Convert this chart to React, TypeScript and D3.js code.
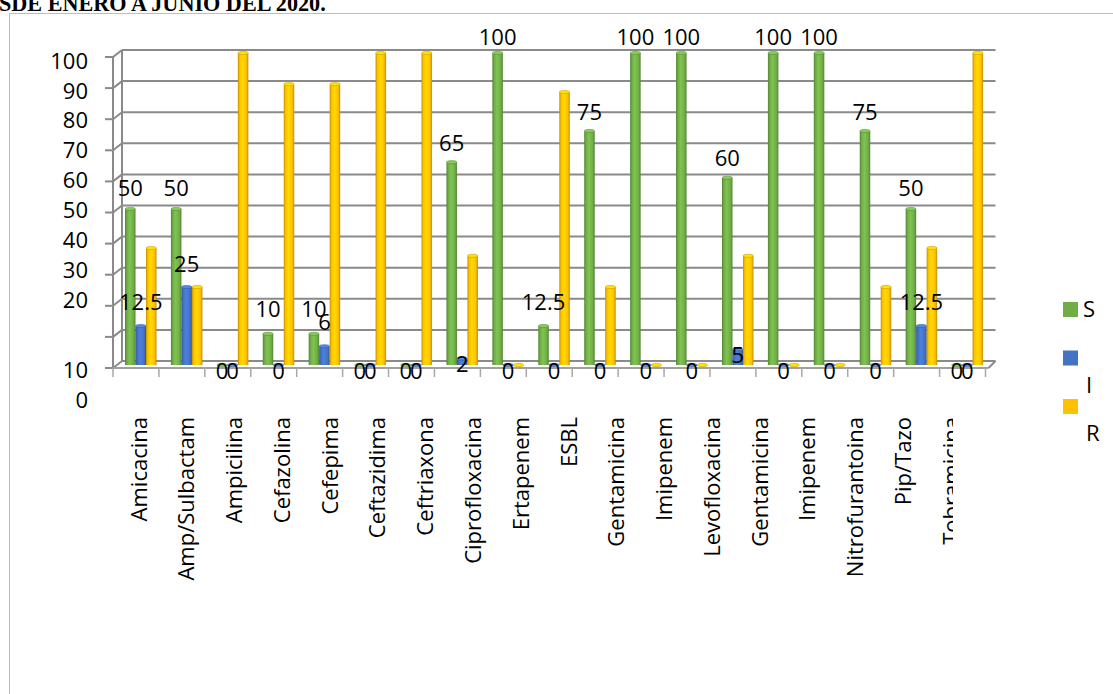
import React from "react";
import * as d3 from "d3";

// Antibiotic names printed under the axis
const CATEGORY_LABELS = [
  "Amicacina", "Amp/Sulbactam", "Ampicilina", "Cefazolina", "Cefepima",
  "Ceftazidima", "Ceftriaxona", "Ciprofloxacina", "Ertapenem", "ESBL",
  "Gentamicina", "Imipenem", "Levofloxacina", "Gentamicina", "Imipenem",
  "Nitrofurantoina", "Pip/Tazo", "Tobramicina",
];

// Percentages per column group (S = sensible, I = intermedio, R = resistente)
const S_VALUES = [50, 50, 0, 10, 10, 0, 0, 65, 100, 12.5, 75, 100, 100, 60, 100, 100, 75, 50, 0];
const I_VALUES = [12.5, 25, 0, 0, 6, 0, 0, 2, 0, 0, 0, 0, 0, 5, 0, 0, 0, 12.5, 0];
const R_VALUES = [37.5, 25, 100, 90, 90, 100, 100, 35, 0, 87.5, 25, 0, 0, 35, 0, 0, 25, 37.5, 100];

const SERIES = ["S", "I", "R"];
const SERIES_COLORS = ["#70AD47", "#4472C4", "#FFC000"];
const LABELLED_SERIES = ["S", "I"];

const Y_TICKS = [0, 10, 20, 30, 40, 50, 60, 70, 80, 90, 100];
const Y_UPPER_LABELS = ["100", "90", "80", "70", "60", "50", "40", "30", "20"];
const Y_LOWER_LABELS = ["10", "0"];

const TITLE = "SDE ENERO A JUNIO DEL 2020.";

const FONT = "'Open Sans', 'Noto Sans', sans-serif";
const GRID = "#8a8a8a";

export default function App() {
  const W = 1113;
  const H = 694;

  const valuesBySeries: Record<string, number[]> = { S: S_VALUES, I: I_VALUES, R: R_VALUES };
  const groups = d3.range(S_VALUES.length);

  // Front edge (axis) and back wall of the 3-D box
  const yFront = d3.scaleLinear().domain([0, 100]).range([368, 57]);
  const yBack = d3.scaleLinear().domain([0, 100]).range([361, 50]);
  const yBar = d3.scaleLinear().domain([0, 100]).range([365, 53]);
  const yTickLabel = d3.scaleLinear().domain([20, 100]).range([300, 61]);

  const xFrontL = 113;
  const xBackL = 122;
  const xGroup = d3.scaleBand<number>().domain(groups).range([113, 985.5]).paddingInner(0);
  const xSeries = d3.scaleBand<string>().domain(SERIES).range([12, 43.5]);
  const xLabel = d3.scaleBand<number>().domain(d3.range(CATEGORY_LABELS.length)).range([115, 975]);
  const xFrontR = xGroup.range()[1] + 3;
  const xBackR = xFrontR + 7;

  const color = d3.scaleOrdinal<string, string>().domain(SERIES).range(SERIES_COLORS);
  const bw = xSeries.bandwidth();

  const labelOffset = (v: number) => (v < 6 ? 6 : -(25 - 0.09 * v));

  return (
    <svg
      width={W}
      height={H}
      style={{ position: "absolute", left: 0, top: 0, background: "#fff" }}
      fontFamily={FONT}
    >
      <defs>
        {SERIES.map((s) => {
          const base = d3.color(color(s))!;
          const dark = base.darker(0.8).formatHex();
          const light = base.brighter(0.35).formatHex();
          return (
            <linearGradient key={s} id={`grad-${s}`} x1="0" x2="1" y1="0" y2="0">
              <stop offset="0%" stopColor={dark} />
              <stop offset="18%" stopColor={base.formatHex()} />
              <stop offset="45%" stopColor={light} />
              <stop offset="80%" stopColor={base.formatHex()} />
              <stop offset="100%" stopColor={dark} />
            </linearGradient>
          );
        })}
        <clipPath id="cat-clip">
          <rect x={0} y={380} width={953} height={300} />
        </clipPath>
      </defs>

      {/* title, partly cut off at the top */}
      <text x={-1} y={11} fontFamily="'Liberation Serif', 'Times New Roman', serif" fontWeight="bold" fontSize={22.2}>
        {TITLE}
      </text>

      {/* chart frame */}
      <line x1={9.5} y1={13.5} x2={W} y2={13.5} stroke="#bdbdbd" strokeWidth={1} />
      <line x1={9.5} y1={13.5} x2={9.5} y2={H} stroke="#bdbdbd" strokeWidth={1} />

      {/* back wall gridlines with side-wall diagonals and axis ticks */}
      {Y_TICKS.map((t) => (
        <g key={t}>
          <line x1={xBackL} y1={yBack(t)} x2={xBackR} y2={yBack(t)} stroke={GRID} strokeWidth={2} />
          <line x1={xFrontL} y1={yFront(t)} x2={xBackL} y2={yBack(t)} stroke={GRID} strokeWidth={2} />
          <line x1={xFrontL - 8} y1={yFront(t)} x2={xFrontL} y2={yFront(t)} stroke={GRID} strokeWidth={2} />
        </g>
      ))}
      <line x1={xBackL} y1={yBack(0)} x2={xBackL} y2={yBack(100)} stroke={GRID} strokeWidth={2} />
      <line x1={xFrontL} y1={yFront(0)} x2={xFrontL} y2={yFront(100)} stroke={GRID} strokeWidth={2} />

      {/* floor front edge and category ticks */}
      <line x1={xFrontL} y1={yFront(0)} x2={xFrontR} y2={yFront(0)} stroke="#a0a0a0" strokeWidth={2} />
      <line x1={xFrontR} y1={yFront(0)} x2={xBackR} y2={yBack(0)} stroke={GRID} strokeWidth={2} />
      {d3.range(groups.length + 1).map((i) => {
        const x = i < groups.length ? xGroup(i)! : xGroup.range()[1];
        return <line key={i} x1={x} y1={yFront(0)} x2={x} y2={yFront(0) + 9} stroke="#a8a8a8" strokeWidth={1.5} />;
      })}

      {/* y-axis labels */}
      {Y_UPPER_LABELS.map((l) => (
        <text key={l} x={88} y={yTickLabel(+l)} dy="0.35em" textAnchor="end" fontSize={22}>
          {l}
        </text>
      ))}
      {Y_LOWER_LABELS.map((l, i) => (
        <text key={l} x={88} y={yFront(0) + 2 + i * 30} dy="0.35em" textAnchor="end" fontSize={22}>
          {l}
        </text>
      ))}

      {/* columns */}
      {groups.map((g) =>
        SERIES.map((s) => {
          const v = valuesBySeries[s][g];
          const x = xGroup(g)! + xSeries(s)!;
          const top = yBar(v);
          const bottom = yBar(0);
          const base = d3.color(color(s))!;
          return (
            <g key={`${g}-${s}`}>
              {v > 0 && (
                <rect x={x} y={top} width={bw} height={bottom - top} fill={`url(#grad-${s})`} />
              )}
              <ellipse
                cx={x + bw / 2}
                cy={top}
                rx={bw / 2}
                ry={1.6}
                fill={base.brighter(0.5).formatHex()}
                stroke={base.darker(0.6).formatHex()}
                strokeWidth={0.6}
              />
            </g>
          );
        })
      )}

      {/* value labels for S and I */}
      {groups.map((g) =>
        LABELLED_SERIES.map((s) => {
          const v = valuesBySeries[s][g];
          const x = xGroup(g)! + xSeries(s)! + bw / 2;
          return (
            <text key={`l-${g}-${s}`} x={x} y={yBar(v) + labelOffset(v)} dy="0.35em" textAnchor="middle" fontSize={22}>
              {String(v)}
            </text>
          );
        })
      )}

      {/* category labels */}
      <g clipPath="url(#cat-clip)">
        {CATEGORY_LABELS.map((c, i) => {
          const x = xLabel(i)! + xLabel.bandwidth() / 2;
          return (
            <text
              key={i}
              transform={`translate(${x},417) rotate(-90)`}
              dy="0.35em"
              textAnchor="end"
              fontSize={22}
            >
              {c}
            </text>
          );
        })}
      </g>

      {/* legend */}
      {SERIES.map((s, i) => {
        const sy = 302 + i * 48.5;
        return (
          <g key={s}>
            <rect x={1063} y={sy} width={15} height={15} fill={color(s)} />
            <text x={i === 0 ? 1083 : 1086} y={sy + 7.5 + (i === 0 ? 0 : 27)} dy="0.35em" fontSize={22}>
              {s}
            </text>
          </g>
        );
      })}
    </svg>
  );
}
